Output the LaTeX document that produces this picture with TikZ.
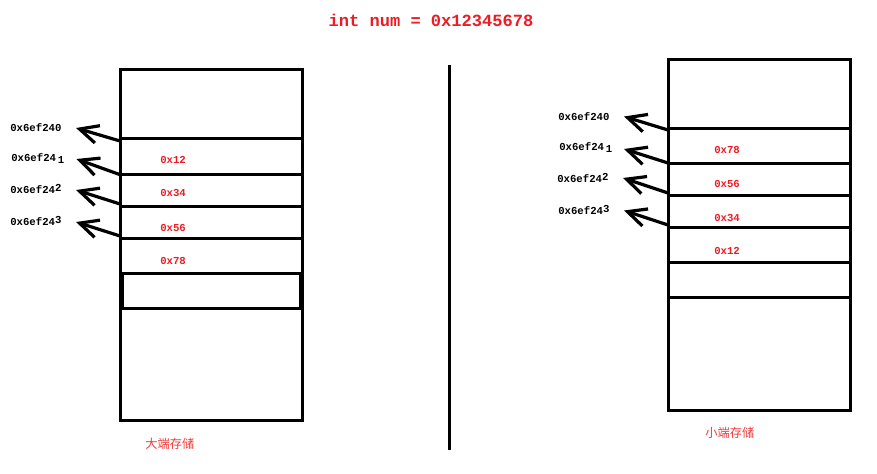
\documentclass[tikz,border=0pt]{standalone}
\usepackage{fontspec}
\setmonofont{Liberation Mono}
\newfontfamily\cjk{Noto Sans CJK SC}
\usetikzlibrary{arrows.meta}
\definecolor{numred}{RGB}{237,28,36}
\definecolor{cjkred}{RGB}{240,60,60}
\begin{document}
\begin{tikzpicture}[x=0.75pt,y=-0.75pt,
  box/.style={draw,line width=2.25pt,rectangle,inner sep=0pt,outer sep=0pt,minimum width=136.5pt},
  arr/.style={line width=2.4pt,-{Straight Barb[length=14pt,width=13.5pt]}},
  addr/.style={font=\ttfamily\bfseries\fontsize{8}{9}\selectfont,anchor=west,inner sep=0pt},
  val/.style={font=\ttfamily\bfseries\fontsize{8}{9}\selectfont,text=numred,anchor=west,inner sep=0pt},
  captext/.style={font=\cjk\fontsize{9.2}{11}\selectfont,text=cjkred,anchor=west,inner sep=0pt},
  divider/.style={line width=2.25pt}]
\fill[white] (0,0) rectangle (877,474);
\useasboundingbox (0,0) rectangle (877,474);

% title
\node[font=\ttfamily\bfseries\fontsize{12.8}{14}\selectfont,text=numred,inner sep=0pt] (title) at (431,20) {int num = 0x12345678};

% divider
\coordinate (dtop) at (449,65);
\coordinate (dbot) at (449,450);
\draw[divider] (dtop) -- (dbot);

% ---------- left column (big endian) ----------
\node[box,minimum height=262.5pt] (LO) at (211,245) {};
\node[box,minimum height=26.25pt] (L1) at (211,156.5) {};
\node[box,minimum height=24pt] (L2) at (211,190) {};
\node[box,minimum height=24pt] (L3) at (211,222) {};
\node[box,minimum height=26.25pt] (L4) at (211,255.5) {};
\node[box,minimum height=26.25pt,minimum width=133.5pt] (L5) at (211,290.5) {};

\node[val] (lv1) at (160,160) {0x12};
\node[val] (lv2) at (160,193) {0x34};
\node[val] (lv3) at (160,228) {0x56};
\node[val] (lv4) at (160,261) {0x78};

\node[addr] (la0) at (10,128) {0x6ef240};
\node[addr] (la1) at (11,159) {0x6ef24\,\raisebox{-1.5pt}{1}};
\node[addr] (la2) at (10,189) {0x6ef24\raisebox{1.5pt}{2}};
\node[addr] (la3) at (10,221) {0x6ef24\raisebox{0.8pt}{3}};

\coordinate (lt0) at (76,128);
\coordinate (lt1) at (76.5,159);
\coordinate (lt2) at (76,190);
\coordinate (lt3) at (76,222);
\draw[arr] ([yshift=-1.5pt]L1.north west) -- (lt0);
\draw[arr] ([yshift=-0.5pt]L2.north west) -- (lt1);
\draw[arr] ([yshift=1.5pt]L3.north west) -- (lt2);
\draw[arr] ([yshift=1.5pt]L4.north west) -- (lt3);

\node[captext] (lcap) at (145,444) {大端存储};

% ---------- right column (little endian) ----------
\node[box,minimum height=262.5pt] (RO) at (759,235) {};
\node[box,minimum height=25.5pt] (R1) at (759,146) {};
\node[box,minimum height=24pt] (R2) at (759,179) {};
\node[box,minimum height=24pt] (R3) at (759,211) {};
\node[box,minimum height=26.25pt] (R4) at (759,244.5) {};
\node[box,minimum height=26.25pt] (R5) at (759,279.5) {};

\node[val] (rv1) at (714,150) {0x78};
\node[val] (rv2) at (714,184) {0x56};
\node[val] (rv3) at (714,218) {0x34};
\node[val] (rv4) at (714,251) {0x12};

\node[addr] (ra0) at (558,116.5) {0x6ef240};
\node[addr] (ra1) at (559,148) {0x6ef24\,\raisebox{-1.5pt}{1}};
\node[addr] (ra2) at (557,178) {0x6ef24\raisebox{1.5pt}{2}};
\node[addr] (ra3) at (558,210) {0x6ef24\raisebox{0.8pt}{3}};

\coordinate (rt0) at (624,116.5);
\coordinate (rt1) at (624,149);
\coordinate (rt2) at (623,178);
\coordinate (rt3) at (624,210.5);
\draw[arr] ([yshift=-0.75pt]R1.north west) -- (rt0);
\draw[arr] ([yshift=0pt]R2.north west) -- (rt1);
\draw[arr] ([yshift=1.5pt]R3.north west) -- (rt2);
\draw[arr] ([yshift=1.5pt]R4.north west) -- (rt3);

\node[captext] (rcap) at (705,433) {小端存储};
\end{tikzpicture}
\end{document}
